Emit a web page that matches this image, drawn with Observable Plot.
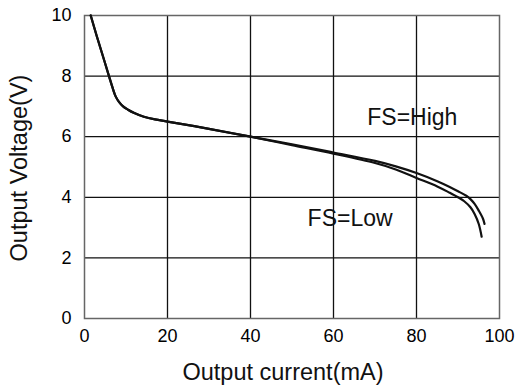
<!DOCTYPE html>
<html>
<head>
<meta charset="utf-8">
<script src="https://cdn.jsdelivr.net/npm/d3@7"></script>
<script src="https://cdn.jsdelivr.net/npm/@observablehq/plot@0.6"></script>
<style>
  html, body { margin: 0; padding: 0; background: #fff; }
  svg { font-family: "Liberation Sans", Arial, Helvetica, sans-serif; }
</style>
</head>
<body>
<div id="chart"></div>
<script>
// Shared steep section (both curves overlap)
const sharedX = [1.5, 3, 4.5, 5.9, 6.8, 7.5, 8.3, 9.3, 10.5, 12, 14.3, 17, 20, 30, 40];
const sharedY = [10, 9.3, 8.63, 8.0, 7.6, 7.33, 7.15, 7.0, 6.89, 6.78, 6.66, 6.57, 6.5, 6.26, 6.0];

// FS=High tail
const highX = [50, 60, 70, 75, 80, 85, 88, 90, 92, 93, 94, 95, 96, 96.4];
const highY = [5.75, 5.48, 5.2, 5.02, 4.8, 4.53, 4.34, 4.2, 4.05, 3.94, 3.78, 3.56, 3.3, 3.12];

// FS=Low tail
const lowX = [50, 60, 70, 75, 80, 85, 88, 90, 91.5, 93, 94, 95, 95.7];
const lowY = [5.72, 5.44, 5.13, 4.92, 4.64, 4.36, 4.15, 4.0, 3.87, 3.67, 3.45, 3.12, 2.7];

const xTicks = [0, 20, 40, 60, 80, 100];
const yTicks = [0, 2, 4, 6, 8, 10];

const labels = [
  {x: 79, y: 6.62, text: "FS=High"},
  {x: 64, y: 3.29, text: "FS=Low"}
];

const build = (xs, ys, tx, ty, name) =>
  xs.map((x, i) => ({x, y: ys[i], s: name}))
    .concat(tx.map((x, i) => ({x, y: ty[i], s: name})));

const data = build(sharedX, sharedY, highX, highY, "High")
  .concat(build(sharedX, sharedY, lowX, lowY, "Low"));

const chart = Plot.plot({
  width: 515,
  height: 387,
  marginLeft: 84,
  marginRight: 16,
  marginTop: 15,
  marginBottom: 69,
  style: {fontFamily: "'Liberation Sans', Arial, sans-serif", fontSize: "18px", color: "#000", background: "#fff"},
  x: {domain: [0, 100], ticks: xTicks, tickSize: 0, tickPadding: 11, label: null},
  y: {domain: [0, 10], ticks: yTicks, tickSize: 0, tickPadding: 13, label: null},
  marks: [
    Plot.ruleX(xTicks.slice(1, -1), {stroke: "#111", strokeWidth: 1.3}),
    Plot.ruleY(yTicks.slice(1, -1), {stroke: "#111", strokeWidth: 1.3}),
    Plot.frame({stroke: "#666", strokeWidth: 1.5}),
    Plot.line(data, {x: "x", y: "y", z: "s", stroke: "#111", strokeWidth: 2.2, curve: "catmull-rom"}),
    Plot.text(labels, {x: "x", y: "y", text: "text", fontSize: 23, fill: "#111"}),
    Plot.text(["Output current(mA)"], {frameAnchor: "bottom", textAnchor: "middle", lineAnchor: "middle", dy: 54, dx: -9, fontSize: 23.5, fill: "#111"}),
    Plot.text(["Output Voltage(V)"], {frameAnchor: "left", textAnchor: "middle", lineAnchor: "middle", dx: -65, dy: 1, rotate: -90, fontSize: 23.5, fill: "#111"}),
    Plot.axisX({ticks: xTicks, tickSize: 0, tickPadding: 11, fontSize: 18, label: null}),
    Plot.axisY({ticks: yTicks, tickSize: 0, tickPadding: 13, fontSize: 18, label: null})
  ]
});
document.getElementById("chart").appendChild(chart);
</script>
</body>
</html>
